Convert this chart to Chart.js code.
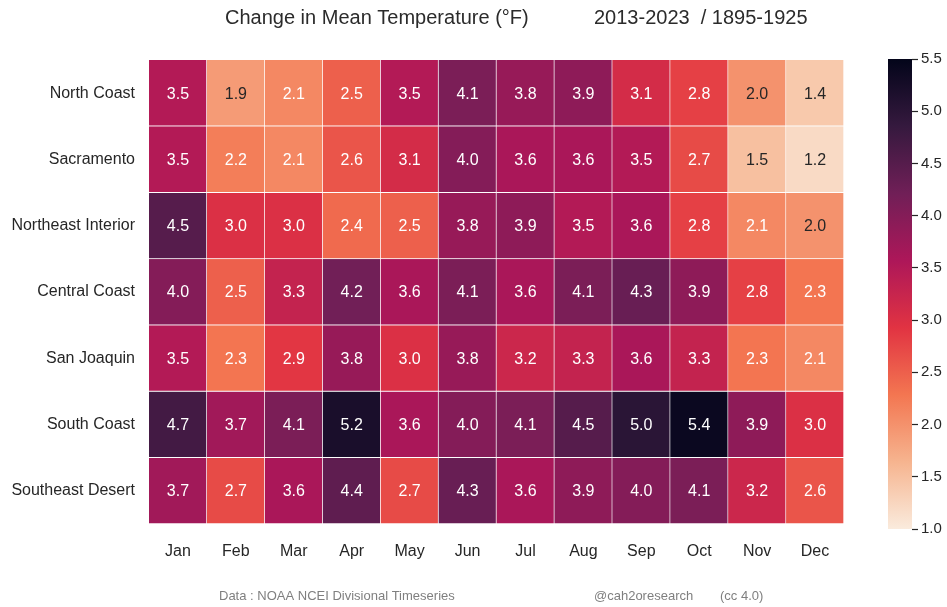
<!DOCTYPE html>
<html>
<head>
<meta charset="utf-8">
<title>Change in Mean Temperature</title>
<script src="https://cdn.jsdelivr.net/npm/chart.js@4.4.1/dist/chart.umd.min.js"></script>
<style>
  body { margin: 0; background: #ffffff; }
  #wrap { position: relative; width: 947px; height: 607px; }
  #heat { position: absolute; left: 0; top: 0; }
  #cbar { position: absolute; left: 860px; top: 0; }
</style>
</head>
<body>
<div id="wrap">
  <canvas id="heat" width="947" height="607"></canvas>
  <canvas id="cbar" width="87" height="607"></canvas>
</div>
<script>
// Data
const months = ['Jan', 'Feb', 'Mar', 'Apr', 'May', 'Jun', 'Jul', 'Aug', 'Sep', 'Oct', 'Nov', 'Dec'];
const regions = ['North Coast', 'Sacramento', 'Northeast Interior', 'Central Coast', 'San Joaquin', 'South Coast', 'Southeast Desert'];

const northCoast        = [3.5, 1.9, 2.1, 2.5, 3.5, 4.1, 3.8, 3.9, 3.1, 2.8, 2.0, 1.4];
const sacramento        = [3.5, 2.2, 2.1, 2.6, 3.1, 4.0, 3.6, 3.6, 3.5, 2.7, 1.5, 1.2];
const northeastInterior = [4.5, 3.0, 3.0, 2.4, 2.5, 3.8, 3.9, 3.5, 3.6, 2.8, 2.1, 2.0];
const centralCoast      = [4.0, 2.5, 3.3, 4.2, 3.6, 4.1, 3.6, 4.1, 4.3, 3.9, 2.8, 2.3];
const sanJoaquin        = [3.5, 2.3, 2.9, 3.8, 3.0, 3.8, 3.2, 3.3, 3.6, 3.3, 2.3, 2.1];
const southCoast        = [4.7, 3.7, 4.1, 5.2, 3.6, 4.0, 4.1, 4.5, 5.0, 5.4, 3.9, 3.0];
const southeastDesert   = [3.7, 2.7, 3.6, 4.4, 2.7, 4.3, 3.6, 3.9, 4.0, 4.1, 3.2, 2.6];

const rows = [northCoast, sacramento, northeastInterior, centralCoast, sanJoaquin, southCoast, southeastDesert];

const colorbarTicks = [1.0, 1.5, 2.0, 2.5, 3.0, 3.5, 4.0, 4.5, 5.0, 5.5];
const vMin = 1.0;
const vMax = 5.5;

// seaborn "rocket_r", low -> high
const rocketStops = ['#faebdd', '#f6b48f', '#f37651', '#e13342', '#ad1759', '#701f57', '#35193e', '#03051a'];

const fontFamily = "'Liberation Sans', Arial, sans-serif";
const textDark = '#262626';
Chart.defaults.font.family = fontFamily;
Chart.defaults.color = textDark;

function hexToRgb(h) {
  const n = parseInt(h.slice(1), 16);
  return [(n >> 16) & 255, (n >> 8) & 255, n & 255];
}

function colorFor(v) {
  let t = (v - vMin) / (vMax - vMin);
  t = Math.max(0, Math.min(1, t));
  const pos = t * (rocketStops.length - 1);
  const i = Math.min(Math.floor(pos), rocketStops.length - 2);
  const f = pos - i;
  const a = hexToRgb(rocketStops[i]);
  const b = hexToRgb(rocketStops[i + 1]);
  const c = a.map((x, k) => Math.round(x + (b[k] - x) * f));
  return 'rgb(' + c.join(',') + ')';
}

// cell values written on top of each bar
const cellLabels = {
  id: 'cellLabels',
  afterDatasetsDraw(chart) {
    const ctx = chart.ctx;
    ctx.save();
    ctx.font = '16px ' + fontFamily;
    ctx.textAlign = 'center';
    ctx.textBaseline = 'middle';
    chart.data.datasets.forEach((ds, i) => {
      chart.getDatasetMeta(i).data.forEach((bar, j) => {
        const v = rows[i][j];
        const p = bar.getCenterPoint();
        ctx.fillStyle = v < 2.05 ? textDark : '#ffffff';
        ctx.fillText(v.toFixed(1), p.x, p.y + 1);
      });
    });
    ctx.restore();
  }
};

// title and credits
const headerFooter = {
  id: 'headerFooter',
  afterDraw(chart) {
    const ctx = chart.ctx;
    ctx.save();
    ctx.textBaseline = 'middle';
    ctx.textAlign = 'left';
    ctx.fillStyle = '#2b2b2b';
    ctx.font = '20px ' + fontFamily;
    ctx.fillText('Change in Mean Temperature (°F)', 225, 18);
    ctx.fillText('2013-2023  / 1895-1925', 594, 18);
    ctx.fillStyle = '#7f7f7f';
    ctx.font = '13px ' + fontFamily;
    ctx.fillText('Data : NOAA NCEI Divisional Timeseries', 219, 596);
    ctx.fillText('@cah2oresearch', 594, 596);
    ctx.fillText('(cc 4.0)', 720, 596);
    ctx.restore();
  }
};

const heatCtx = document.getElementById('heat').getContext('2d');
const heatChart = new Chart(heatCtx, {
  type: 'bar',
  data: {
    labels: months,
    datasets: rows.map((vals, i) => ({
      label: regions[i],
      data: vals.map(() => [i, i + 1]),
      backgroundColor: vals.map(colorFor),
      borderColor: '#ffffff',
      borderWidth: { top: 0, left: 0, right: 1, bottom: 1 },
      borderSkipped: false,
      grouped: false,
      barPercentage: 1,
      categoryPercentage: 1
    }))
  },
  options: {
    responsive: false,
    animation: false,
    layout: { padding: { left: 0, top: 60, right: 103, bottom: 43 } },
    plugins: {
      legend: { display: false },
      tooltip: { enabled: false }
    },
    scales: {
      x: {
        grid: { display: false, drawTicks: false },
        border: { display: false },
        afterFit: axis => { axis.height = 40; },
        ticks: { padding: 18, color: textDark, font: { size: 16 } }
      },
      y: {
        type: 'linear',
        min: 0,
        max: regions.length,
        reverse: true,
        afterBuildTicks: axis => { axis.ticks = regions.map((r, i) => ({ value: i + 0.5 })); },
        afterFit: axis => { axis.width = 149; },
        grid: { display: false, drawTicks: false },
        border: { display: false },
        ticks: {
          autoSkip: false,
          padding: 14,
          color: textDark,
          font: { size: 16 },
          callback: (v, idx) => regions[idx]
        }
      }
    }
  },
  plugins: [cellLabels, headerFooter]
});

// Colorbar
const cbarCtx = document.getElementById('cbar').getContext('2d');
const cbarChart = new Chart(cbarCtx, {
  type: 'bar',
  data: {
    labels: [''],
    datasets: [{
      data: [[vMin, vMax]],
      backgroundColor(context) {
        const chart = context.chart;
        if (!chart.chartArea) return null;
        const ys = chart.scales.y;
        const g = chart.ctx.createLinearGradient(0, ys.getPixelForValue(vMin), 0, ys.getPixelForValue(vMax));
        rocketStops.forEach((c, k) => g.addColorStop(k / (rocketStops.length - 1), c));
        return g;
      },
      borderWidth: 0,
      barPercentage: 1,
      categoryPercentage: 1
    }]
  },
  options: {
    responsive: false,
    animation: false,
    layout: { padding: { left: 28, top: 59, right: 0, bottom: 78 } },
    plugins: {
      legend: { display: false },
      tooltip: { enabled: false }
    },
    scales: {
      x: { display: false },
      y: {
        position: 'right',
        min: vMin,
        max: vMax,
        afterBuildTicks: axis => { axis.ticks = colorbarTicks.map(v => ({ value: v })); },
        afterFit: axis => { axis.width = 35; },
        grid: { drawOnChartArea: false, tickLength: 6, tickColor: textDark, tickWidth: 1.2 },
        border: { display: false },
        ticks: { padding: 3, color: textDark, font: { size: 15 }, callback: v => v.toFixed(1) }
      }
    }
  }
});
</script>
</body>
</html>
